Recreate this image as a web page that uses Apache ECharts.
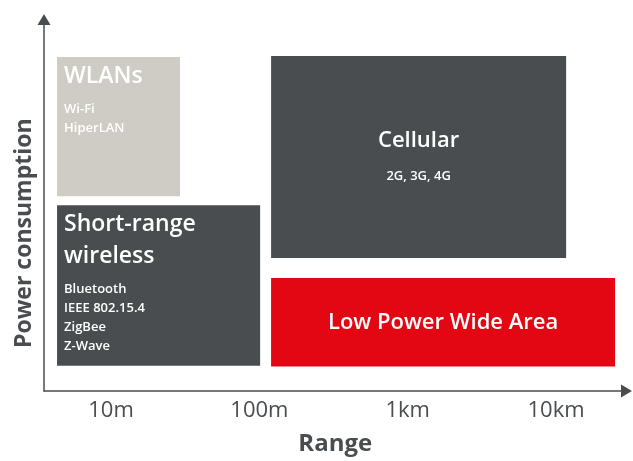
<!DOCTYPE html>
<html>
<head>
<meta charset="utf-8">
<script src="https://cdn.jsdelivr.net/npm/echarts@6/dist/echarts.min.js"></script>
<style>
html,body{margin:0;padding:0;background:#fff;}
#chart{width:633px;height:461px;}
</style>
</head>
<body>
<div id="chart"></div>
<script>
// Range axis: value = log10(metres)
const rangeTickValues = [1, 2, 3, 4];
const rangeTickLabels = ['10m', '100m', '1km', '10km'];

// Boxes (range in log10 metres, power in relative units 0..100)
const boxTitles = ['WLANs', 'Short-range\nwireless', 'Cellular', 'Low Power Wide Area'];
const boxTechs = ['Wi-Fi\nHiperLAN', 'Bluetooth\nIEEE 802.15.4\nZigBee\nZ-Wave', '2G, 3G, 4G', ''];
const boxRangeFrom = [0.636, 0.636, 2.079, 2.079];
const boxRangeTo = [1.465, 2.005, 4.068, 4.398];
const boxPowerLow = [52.4, 6.8, 35.8, 6.6];
const boxPowerHigh = [89.9, 50.0, 90.2, 30.4];

// styles
const boxColors = ['#cfccc5', '#4a4d50', '#4a4d50', '#e30613'];
const boxLayout = ['topleft', 'topleft', 'center', 'center'];
const DARK = '#4a4d50';
const FONT = '"Open Sans", "Noto Sans", sans-serif';

const data = boxTitles.map((t, i) => [boxRangeFrom[i], boxRangeTo[i], boxPowerLow[i], boxPowerHigh[i]]);

function renderItem(params, api) {
  const i = params.dataIndex;
  const p0 = api.coord([api.value(0), api.value(3)]);
  const p1 = api.coord([api.value(1), api.value(2)]);
  const x = p0[0], y = p0[1], w = p1[0] - p0[0], h = p1[1] - p0[1];
  const children = [{
    type: 'rect',
    shape: { x: x, y: y, width: w, height: h },
    style: { fill: boxColors[i] }
  }];
  const title = boxTitles[i];
  const tech = boxTechs[i];
  if (boxLayout[i] === 'topleft') {
    const n = title.split('\n').length;
    children.push({
      type: 'text',
      style: {
        text: title, x: x + 7, y: y + 19 - 16, fill: '#fff',
        font: '600 23px ' + FONT, lineHeight: 32, align: 'left', verticalAlign: 'top'
      }
    });
    children.push({
      type: 'text',
      style: {
        text: tech, x: x + 7, y: y + 19 + (n - 1) * 32 + 33 - 9.5, fill: '#fff',
        font: '600 13px ' + FONT, lineHeight: 19, align: 'left', verticalAlign: 'top'
      }
    });
  } else {
    const cx = x + w / 2, cy = y + h / 2;
    if (tech) {
      children.push({
        type: 'text',
        style: { text: title, x: cx, y: cy - 16, fill: '#fff', font: '600 22px ' + FONT, align: 'center', verticalAlign: 'middle' }
      });
      children.push({
        type: 'text',
        style: { text: tech, x: cx, y: cy + 19, fill: '#fff', font: '600 13px ' + FONT, align: 'center', verticalAlign: 'middle' }
      });
    } else {
      children.push({
        type: 'text',
        style: { text: title, x: cx, y: cy, fill: '#fff', font: '600 22px ' + FONT, align: 'center', verticalAlign: 'middle' }
      });
    }
  }
  return { type: 'group', children: children };
}

const chart = echarts.init(document.getElementById('chart'), null, { renderer: 'canvas' });
chart.setOption({
  animation: false,
  grid: { left: 44, right: 6.5, top: 19.5, bottom: 68.5, containLabel: false },
  xAxis: {
    type: 'value',
    min: 0.548,
    max: 4.475,
    name: 'Range',
    nameLocation: 'middle',
    nameGap: 41,
    nameTextStyle: { color: DARK, fontSize: 24, fontWeight: 'bold', fontFamily: FONT },
    axisLine: { show: true, lineStyle: { color: DARK, width: 1.5 }, symbol: ['none', 'triangle'], symbolSize: [13, 11] },
    axisTick: { show: false },
    splitLine: { show: false },
    axisLabel: {
      customValues: rangeTickValues,
      formatter: v => rangeTickLabels[rangeTickValues.indexOf(Math.round(v))] || '',
      color: DARK, fontSize: 22, fontFamily: FONT, margin: 9
    }
  },
  yAxis: {
    type: 'value',
    min: 0,
    max: 100,
    name: 'Power consumption',
    nameLocation: 'middle',
    nameRotate: 90,
    nameGap: 8,
    nameTextStyle: { color: DARK, fontSize: 23, fontWeight: 'bold', fontFamily: FONT, padding: [0, 56, 0, 0] },
    axisLine: { show: true, lineStyle: { color: DARK, width: 1.5 }, symbol: ['none', 'triangle'], symbolSize: [13, 11] },
    axisTick: { show: false },
    axisLabel: { show: false },
    splitLine: { show: false }
  },
  series: [{
    type: 'custom',
    renderItem: renderItem,
    data: data,
    encode: { x: [0, 1], y: [2, 3] },
    clip: false
  }]
});
</script>
</body>
</html>
